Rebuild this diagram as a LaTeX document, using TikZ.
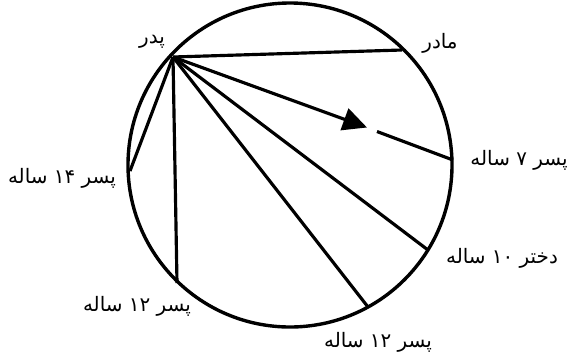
\documentclass[tikz,border=0pt]{standalone}
\usepackage{fontspec}
\newfontfamily\arabicfont[Script=Arabic]{DejaVu Sans}
\TeXXeTstate=1
\usetikzlibrary{arrows.meta}
\definecolor{Ink}{HTML}{000000}

\begin{document}
\begin{tikzpicture}[x=0.03cm,y=-0.03cm,
  chord/.style={Ink,line width=2.7pt},
  member/.style={font=\arabicfont\fontsize{17}{20}\selectfont,text=Ink,inner sep=0pt}]
\useasboundingbox (0,0) rectangle (571,356);
% family circle
\draw[Ink,line width=2.9pt] (290,165) circle (162);
% points on the circle
\coordinate (pedar) at (173,57);
\coordinate (madar) at (402,50);
\coordinate (pesarHaft) at (453,160);
\coordinate (pesarChahardah) at (130,171);
\coordinate (pesarDavazdahA) at (177,283);
\coordinate (dokhtarDah) at (428,250);
\coordinate (pesarDavazdahB) at (368,307);
\coordinate (tip) at (367,127.5);
\coordinate (resume) at (377,131.5);
% chords from the father
\draw[chord] (pedar) -- (madar);
\draw[chord,-{Triangle[length=0.72cm,width=0.68cm]}] (pedar) -- (tip);
\draw[chord] (resume) -- (pesarHaft);
\draw[chord] (pedar) -- (dokhtarDah);
\draw[chord] (pedar) -- (pesarDavazdahB);
\draw[chord] (pedar) -- (pesarDavazdahA);
\draw[chord] (pedar) -- (pesarChahardah);
% names
\node[member] (lblPedar) at (152,42) {\beginR پدر\endR};
\node[member] (lblMadar) at (440,43) {\beginR مادر\endR};
\node[member] (lblPesarHaft) at (519,160) {\beginR پسر ۷ ساله\endR};
\node[member] (lblPesarChahardah) at (62,178) {\beginR پسر \beginL۱۴\endL{} ساله\endR};
\node[member] (lblPesarDavazdahA) at (137,306) {\beginR پسر \beginL۱۲\endL{} ساله\endR};
\node[member] (lblDokhtarDah) at (502,258) {\beginR دختر \beginL۱۰\endL{} ساله\endR};
\node[member] (lblPesarDavazdahB) at (378,342) {\beginR پسر \beginL۱۲\endL{} ساله\endR};
\end{tikzpicture}
\end{document}
